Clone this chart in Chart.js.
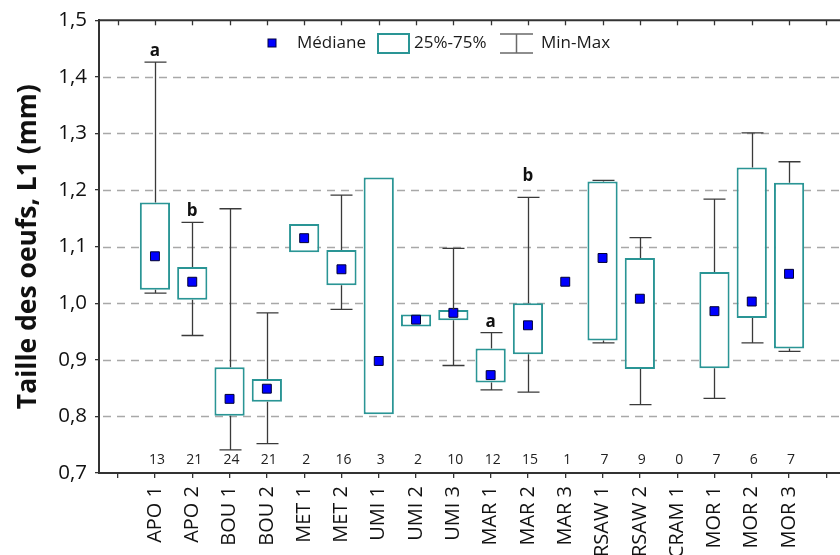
<!DOCTYPE html>
<html>
<head>
<meta charset="utf-8">
<script src="https://cdn.jsdelivr.net/npm/chart.js@4/dist/chart.umd.min.js"></script>
<style>
  html, body { margin: 0; padding: 0; background: #fff; overflow: hidden; }
  #wrap { width: 860px; height: 555px; }
</style>
</head>
<body>
<div id="wrap"><canvas id="c" width="860" height="555"></canvas></div>
<script>
// Groups (sites / samplings)
const groups = ['APO 1','APO 2','BOU 1','BOU 2','MET 1','MET 2','UMI 1','UMI 2','UMI 3',
                'MAR 1','MAR 2','MAR 3','RSAW 1','RSAW 2','CRAM 1','MOR 1','MOR 2','MOR 3'];
// Egg size L1 (mm): median, quartiles, extremes
const medians = [1.083, 1.038, 0.831, 0.849, 1.115, 1.060, 0.898, 0.971, 0.983,
                 0.873, 0.961, 1.038, 1.080, 1.008, null, 0.986, 1.003, 1.052];
const q1 =      [1.024, 1.006, 0.801, 0.826, 1.090, 1.032, 0.804, 0.959, 0.970,
                 0.860, 0.910, null, 0.934, 0.884, null, 0.885, 0.974, 0.920];
const q3 =      [1.178, 1.064, 0.887, 0.866, 1.140, 1.094, 1.222, 0.980, 0.988,
                 0.920, 1.000, null, 1.215, 1.080, null, 1.055, 1.240, 1.213];
const mins =    [1.018, 0.943, 0.741, 0.752, 1.090, 0.989, 0.804, 0.959, 0.890,
                 0.847, 0.843, null, 0.930, 0.821, null, 0.832, 0.930, 0.915];
const maxs =    [1.426, 1.143, 1.167, 0.983, 1.140, 1.191, 1.222, 0.980, 1.097,
                 0.948, 1.187, null, 1.217, 1.116, null, 1.184, 1.301, 1.250];
// Sample sizes
const counts =  [13, 21, 24, 21, 2, 16, 3, 2, 10, 12, 15, 1, 7, 9, 0, 7, 6, 7];
// Significance letters
const letters = ['a','b','','','','','','','','a','b','','','','','','',''];
// Y axis
const yMin = 0.7, yMax = 1.5, yStep = 0.1;
const yTitle = 'Taille des oeufs, L1 (mm)';
const legendLabels = ['Médiane', '25%-75%', 'Min-Max'];

// one empty slot before and after the groups
const labels = [''].concat(groups, ['']);
const pad = arr => [null].concat(arr, [null]);
const boxData = pad(groups.map((g, i) => (q1[i] == null || q3[i] == null) ? null : [q1[i], q3[i]]));
const medData = pad(medians);
const minData = pad(mins), maxData = pad(maxs), q1Data = pad(q1), q3Data = pad(q3);
const countData = pad(counts), letterData = pad(letters);

const FONT = "'Open Sans', 'DejaVu Sans', sans-serif";
const TEAL = '#2a9595';
const AXIS = '#333333';

const decor = {
  id: 'decor',
  beforeDatasetsDraw(chart) {
    const { ctx, chartArea: a, scales: { y } } = chart;
    ctx.save();
    ctx.strokeStyle = '#a8a8a8';
    ctx.lineWidth = 1.3;
    ctx.setLineDash([8, 6]);
    for (let v = yMin + yStep; v < yMax - 1e-6; v += yStep) {
      const py = Math.round(y.getPixelForValue(v)) + 0.5;
      ctx.beginPath();
      ctx.moveTo(a.left + 4, py);
      ctx.lineTo(a.right, py);
      ctx.stroke();
    }
    ctx.restore();
  },
  afterDatasetsDraw(chart) {
    const { ctx, chartArea: a, scales: { x, y } } = chart;
    ctx.save();
    // whiskers
    ctx.strokeStyle = '#3a3a3a';
    ctx.lineWidth = 1.3;
    const cap = 11;
    for (let i = 0; i < labels.length; i++) {
      const px = Math.round(x.getPixelForValue(i)) + 0.5;
      const seg = (from, to) => {
        if (from == null || to == null || Math.abs(from - to) < 1e-9) return;
        const p1 = y.getPixelForValue(from), p2 = y.getPixelForValue(to);
        ctx.beginPath();
        ctx.moveTo(px, p1); ctx.lineTo(px, p2);
        ctx.moveTo(px - cap, p2); ctx.lineTo(px + cap, p2);
        ctx.stroke();
      };
      seg(q3Data[i], maxData[i]);
      seg(q1Data[i], minData[i]);
    }
    // significance letters
    ctx.fillStyle = '#111';
    ctx.font = "bold 17px " + FONT;
    ctx.textAlign = 'center';
    ctx.textBaseline = 'alphabetic';
    for (let i = 0; i < labels.length; i++) {
      if (!letterData[i]) continue;
      const lift = labels[i] === 'MAR 2' ? 16 : 6;
      ctx.fillText(letterData[i], x.getPixelForValue(i), y.getPixelForValue(maxData[i]) - lift);
    }
    // sample sizes along the bottom
    ctx.font = "14px " + FONT;
    ctx.textBaseline = 'middle';
    ctx.fillStyle = '#222';
    for (let i = 0; i < labels.length; i++) {
      if (countData[i] == null) continue;
      ctx.fillText(String(countData[i]), x.getPixelForValue(i) + 2, a.bottom - 13);
    }
    ctx.restore();
  },
  afterDraw(chart) {
    const { ctx, chartArea: a, scales: { x } } = chart;
    ctx.save();
    // top frame with inward ticks
    ctx.strokeStyle = AXIS;
    ctx.lineWidth = 2;
    ctx.beginPath();
    ctx.moveTo(a.left - 1, a.top);
    ctx.lineTo(a.right, a.top);
    ctx.stroke();
    ctx.lineWidth = 1.3;
    for (let i = 0; i < labels.length; i++) {
      const px = Math.round(x.getPixelForValue(i)) + 0.5;
      ctx.beginPath();
      ctx.moveTo(px, a.top);
      ctx.lineTo(px, a.top + 5);
      ctx.stroke();
    }
    // legend
    const ly = 43;
    ctx.font = "17px " + FONT;
    ctx.textBaseline = 'middle';
    ctx.textAlign = 'left';
    ctx.fillStyle = '#0000ff';
    ctx.fillRect(268, ly - 4, 8, 8);
    ctx.strokeStyle = '#000040';
    ctx.lineWidth = 1;
    ctx.strokeRect(268, ly - 4, 8, 8);
    ctx.fillStyle = '#1a1a1a';
    ctx.fillText(legendLabels[0], 297, ly);
    ctx.strokeStyle = TEAL;
    ctx.lineWidth = 2;
    ctx.strokeRect(378, ly - 9, 31, 19);
    ctx.fillText(legendLabels[1], 414, ly);
    ctx.strokeStyle = '#6a6a6a';
    ctx.lineWidth = 1.5;
    ctx.beginPath();
    ctx.moveTo(500, ly - 9); ctx.lineTo(533, ly - 9);
    ctx.moveTo(516.5, ly - 9); ctx.lineTo(516.5, ly + 10);
    ctx.moveTo(500, ly + 10); ctx.lineTo(533, ly + 10);
    ctx.stroke();
    ctx.fillText(legendLabels[2], 541, ly);
    ctx.restore();
  }
};

new Chart(document.getElementById('c'), {
  type: 'bar',
  data: {
    labels: labels,
    datasets: [
      {
        type: 'line',
        label: legendLabels[0],
        data: medData,
        showLine: false,
        pointStyle: 'rect',
        pointRadius: 6.3,
        pointHoverRadius: 6.3,
        pointBackgroundColor: '#0000ff',
        pointBorderColor: '#000033',
        pointBorderWidth: 1,
        order: 0
      },
      {
        type: 'bar',
        label: legendLabels[1],
        data: boxData,
        backgroundColor: '#ffffff',
        borderColor: TEAL,
        borderWidth: 2,
        borderSkipped: false,
        barPercentage: 0.81,
        categoryPercentage: 1.0,
        order: 1
      }
    ]
  },
  options: {
    responsive: false,
    animation: false,
    devicePixelRatio: 1,
    layout: { padding: { top: 17, left: 0, right: 15, bottom: 0 } },
    plugins: { legend: { display: false }, tooltip: { enabled: false } },
    scales: {
      x: {
        type: 'category',
        offset: true,
        grid: { offset: false, drawOnChartArea: false, drawTicks: true, tickLength: 5, color: AXIS, lineWidth: 1.3 },
        border: { color: AXIS, width: 2 },
        ticks: {
          autoSkip: false, minRotation: 90, maxRotation: 90, padding: 8,
          color: '#111', font: { family: FONT, size: 20 }
        },
        afterFit(s) { s.height = 82; }
      },
      y: {
        min: yMin, max: yMax,
        grid: { drawOnChartArea: false, drawTicks: true, tickLength: 4, color: AXIS, lineWidth: 1.3 },
        border: { color: AXIS, width: 2 },
        ticks: {
          stepSize: yStep, padding: 8, color: '#111',
          font: { family: FONT, size: 20.5 },
          callback: v => v.toFixed(1).replace('.', ',')
        },
        title: {
          display: true, text: yTitle, color: '#111',
          font: { family: FONT, size: 26.5, weight: 'bold' },
          padding: { top: 13, bottom: 0 }
        },
        afterFit(s) { s.width = 99; }
      }
    }
  },
  plugins: [decor]
});
</script>
</body>
</html>
